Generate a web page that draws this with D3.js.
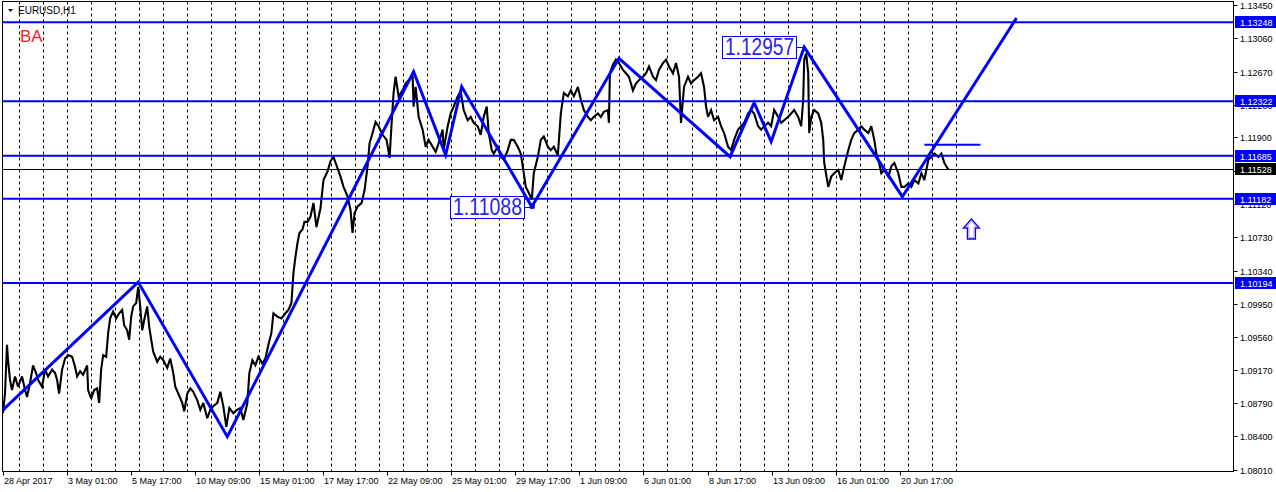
<!DOCTYPE html>
<html><head><meta charset="utf-8">
<script src="https://cdn.jsdelivr.net/npm/d3@7/dist/d3.min.js"></script>
<style>body{margin:0;background:#fff;overflow:hidden}svg{display:block}</style>
</head><body>
<script>
// ---------- DATA ----------
const symbolTitle = "EURUSD,H1";
const priceTicks = [1.13450,1.13060,1.12670,1.12280,1.11900,1.11510,1.11120,1.10730,1.10340,1.09950,1.09560,1.09170,1.08790,1.08400,1.08010];
const timeTickBars = [0,63.5,127.5,191.5,255.5,319.5,383.5,447.5,511.5,575.5,639.5,703.5,767.5,831.5,895.5];
const timeTickLabels = ["28 Apr 2017","3 May 01:00","5 May 17:00","10 May 09:00","15 May 01:00","17 May 17:00","22 May 09:00","25 May 01:00","29 May 17:00","1 Jun 09:00","6 Jun 01:00","8 Jun 17:00","13 Jun 09:00","16 Jun 01:00","20 Jun 17:00"];

// hourly bar index (from first bar) and price
const priceBars = [0,2,4,5,7,9,12,15,19,22,24,27,30,33,35,39,42,45,49,52,54,56,59,62,65,69,72,74,77,80,84,85,88,91,94,96,98,100,103,105,107,110,113,116,119,121,124,126,128,130,133,135,137,139,141,144,146,148,150,154,157,160,164,167,170,172,175,179,181,184,187,190,194,197,200,204,207,210,214,217,220,223,226,230,234,237,240,244,246,249,252,255,259,262,265,268,270,274,278,282,285,288,290,292,294,296,299,301,304,307,310,313,317,320,324,327,330,334,337,340,344,347,349,351,354,358,361,364,366,369,372,375,379,383,386,388,390,392,395,399,402,405,409,410,412,415,419,422,425,429,432,435,439,440,444,447,450,454,457,460,464,467,470,474,477,480,483,485,488,490,494,497,500,504,507,510,514,517,520,522,525,528,530,534,537,540,544,547,550,554,557,560,564,567,570,574,577,580,584,587,590,594,597,600,604,605,606,609,612,615,619,622,625,629,632,635,639,642,645,649,652,655,659,662,665,669,672,675,677,680,684,687,690,694,697,700,702,704,707,710,714,717,720,724,727,730,734,737,740,744,747,750,754,757,760,764,767,770,774,777,780,784,787,790,794,797,799,800,802,804,805,807,810,814,817,819,820,824,827,830,834,837,840,844,847,850,854,857,860,864,867,870,872,874,877,880,884,887,890,894,897,900,904,907,910,914,917,920,924,927,930,934,937,940,944];
const priceValues = [1.0867,1.0890,1.0947,1.0929,1.0906,1.0894,1.0910,1.0898,1.0910,1.0894,1.0886,1.0902,1.0923,1.0914,1.0906,1.0898,1.0918,1.0910,1.0918,1.0914,1.0906,1.0890,1.0918,1.0931,1.0935,1.0933,1.0921,1.0910,1.0916,1.0912,1.0923,1.0894,1.0884,1.0894,1.0896,1.0879,1.0918,1.0935,1.0933,1.0961,1.0978,1.0986,1.0978,1.0984,1.0988,1.0970,1.0964,1.0953,1.0980,1.0992,1.0996,1.1015,1.0992,1.0964,1.0976,1.0992,1.0968,1.0953,1.0939,1.0927,1.0933,1.0929,1.0920,1.0931,1.0914,1.0898,1.0890,1.0879,1.0869,1.0890,1.0896,1.0892,1.0882,1.0871,1.0879,1.0861,1.0871,1.0875,1.0879,1.0892,1.0875,1.0851,1.0873,1.0867,1.0871,1.0873,1.0859,1.0879,1.0914,1.0929,1.0923,1.0933,1.0925,1.0931,1.0947,1.0961,1.0984,1.0980,1.0978,1.0984,1.0988,1.0996,1.1031,1.1050,1.1066,1.1078,1.1082,1.1091,1.1091,1.1097,1.1113,1.1085,1.1107,1.1140,1.1150,1.1162,1.1167,1.1154,1.1144,1.1132,1.1121,1.1105,1.1078,1.1101,1.1109,1.1113,1.1128,1.1156,1.1183,1.1195,1.1208,1.1203,1.1193,1.1187,1.1166,1.1206,1.1242,1.1261,1.1238,1.1245,1.1253,1.1257,1.1261,1.1226,1.1249,1.1214,1.1199,1.1179,1.1187,1.1179,1.1173,1.1183,1.1199,1.1175,1.1203,1.1218,1.1226,1.1238,1.1244,1.1222,1.1210,1.1214,1.1207,1.1203,1.1193,1.1214,1.1226,1.1195,1.1175,1.1171,1.1179,1.1167,1.1164,1.1175,1.1187,1.1187,1.1179,1.1171,1.1148,1.1132,1.1125,1.1117,1.1148,1.1167,1.1187,1.1191,1.1179,1.1175,1.1179,1.1169,1.1218,1.1242,1.1238,1.1245,1.1238,1.1249,1.1234,1.1222,1.1214,1.1210,1.1214,1.1218,1.1214,1.1220,1.1222,1.1207,1.1265,1.1275,1.1281,1.1277,1.1269,1.1265,1.1261,1.1245,1.1253,1.1257,1.1261,1.1265,1.1273,1.1261,1.1257,1.1269,1.1277,1.1281,1.1273,1.1265,1.1277,1.1261,1.1207,1.1249,1.1261,1.1253,1.1257,1.1261,1.1265,1.1249,1.1226,1.1214,1.1222,1.1210,1.1214,1.1203,1.1195,1.1179,1.1175,1.1187,1.1199,1.1203,1.1207,1.1218,1.1222,1.1218,1.1203,1.1199,1.1203,1.1207,1.1203,1.1222,1.1214,1.1207,1.1210,1.1214,1.1218,1.1222,1.1214,1.1203,1.1234,1.1281,1.1288,1.1265,1.1195,1.1214,1.1222,1.1218,1.1207,1.1187,1.1160,1.1132,1.1144,1.1148,1.1152,1.1140,1.1156,1.1175,1.1187,1.1195,1.1199,1.1203,1.1199,1.1195,1.1203,1.1187,1.1171,1.1164,1.1148,1.1152,1.1144,1.1156,1.1160,1.1148,1.1132,1.1132,1.1136,1.1132,1.1140,1.1136,1.1148,1.1140,1.1164,1.1167,1.1171,1.1167,1.1171,1.1160,1.1152];

// zigzag (analysis line)
const zigBars   = [0,135,224,410,442,458,528,615,726,750,767,800,898,1012];
const zigPrices = [1.08707,1.10205,1.08394,1.12669,1.11693,1.12493,1.11088,1.12826,1.11673,1.12306,1.11849,1.12957,1.11205,1.13298];

// horizontal levels
const levelPrices = [1.13248,1.12322,1.11685,1.11182,1.10194];
const lastPrice = 1.11528;
const shortLineBars = [920,976];
const shortLinePrice = 1.11814;

// price labels on the chart
const labelTexts  = ["1.12957","1.11088"];
const labelBars   = [800,528];
const labelPrices = [1.12957,1.11088];

const arrowBar = 967, arrowPrice = 1.10944;
const cornerText = "BA";

// ---------- DRAW ----------
const W=1276,H=492, L=2.5, R=1233.5, T=1.5, B=471.5;
const blue="#0000ff";
const svg=d3.select("body").append("svg").attr("width",W).attr("height",H)
  .style("font-family","'Liberation Sans',Arial,sans-serif");

const x=d3.scaleLinear().domain([0,1230]).range([3,3+1230*1.0015]);
const y=d3.scaleLinear().domain([1.08010,1.13450]).range([469.5,5]);

const plot=svg.append("g");
plot.append("clipPath").attr("id","clip").append("rect").attr("x",L).attr("y",T).attr("width",R-L).attr("height",B-T);
const g=plot.append("g").attr("clip-path","url(#clip)");

// grid (day separators)
const gridBars=d3.range(15.5,960,24);
g.selectAll(".grid").data(gridBars).join("line")
  .attr("x1",d=>Math.round(x(d))+0.5).attr("x2",d=>Math.round(x(d))+0.5)
  .attr("y1",T).attr("y2",B).attr("stroke","#000").attr("stroke-width",1)
  .attr("stroke-dasharray","3,3");

// price series
const pts=priceBars.map((b,i)=>[b,priceValues[i]]);
g.append("path").datum(pts)
  .attr("d",d3.line().x(d=>x(d[0])).y(d=>y(d[1])))
  .attr("fill","none").attr("stroke","#000").attr("stroke-width",2.1).attr("stroke-linejoin","miter").attr("stroke-miterlimit",3);

// level lines
g.selectAll(".lvl").data(levelPrices).join("line")
  .attr("x1",L).attr("x2",R).attr("y1",d=>y(d)).attr("y2",d=>y(d))
  .attr("stroke",blue).attr("stroke-width",2);
// last price line
g.append("line").attr("x1",L).attr("x2",R)
  .attr("y1",Math.round(y(lastPrice))+0.5).attr("y2",Math.round(y(lastPrice))+0.5)
  .attr("stroke","#000").attr("stroke-width",1);

// zigzag
const zig=zigBars.map((b,i)=>[b,zigPrices[i]]);
g.append("path").datum(zig)
  .attr("d",d3.line().x(d=>x(d[0])).y(d=>y(d[1])))
  .attr("fill","none").attr("stroke",blue).attr("stroke-width",3).attr("stroke-linejoin","miter");

// short horizontal
g.append("line").attr("x1",x(shortLineBars[0])).attr("x2",x(shortLineBars[1]))
  .attr("y1",y(shortLinePrice)).attr("y2",y(shortLinePrice)).attr("stroke",blue).attr("stroke-width",2);

// price labels with boxes
labelTexts.forEach((t,i)=>{
  const px=x(labelBars[i]), py=y(labelPrices[i]);
  const right=Math.round(px-8);
  const lg=g.append("g");
  const tw=69;
  lg.append("rect").attr("x",right-tw-5+0.5).attr("y",Math.round(py-11)+0.5)
    .attr("width",tw+5).attr("height",22)
    .attr("fill","#fff").attr("stroke",blue).attr("stroke-width",1);
  lg.append("text").attr("x",right-tw-2).attr("y",py+8)
    .attr("textLength",tw).attr("lengthAdjust","spacingAndGlyphs")
    .attr("font-size",23).attr("fill","#2a22ee").text(t);
  lg.append("line").attr("x1",right).attr("x2",px).attr("y1",Math.round(py)+0.5).attr("y2",Math.round(py)+0.5).attr("stroke",blue).attr("stroke-width",1);
});
// small marker at the low
g.append("rect").attr("x",x(labelBars[1])-2).attr("y",y(labelPrices[1])-3).attr("width",5).attr("height",5).attr("fill",blue);

// arrow
const ax=x(arrowBar), ay=y(arrowPrice);
g.append("path").attr("transform",`translate(${ax},${ay})`)
  .attr("d","M0,0 L8,9 L4,9 L4,20 L-4,20 L-4,9 L-8,9 Z")
  .attr("fill","#fff").attr("stroke",blue).attr("stroke-width",1.3);
g.append("path").attr("transform",`translate(${ax},${ay})`)
  .attr("d","M0,2.5 L5.5,8 L2.6,8 L2.6,18.6 L-2.6,18.6 L-2.6,8 L-5.5,8 Z")
  .attr("fill","none").attr("stroke","#b070ff").attr("stroke-width",0.8);

// corner texts
svg.append("path").attr("d","M8,9 L13,9 L10.5,12 Z").attr("fill","#000");
svg.append("text").attr("x",18).attr("y",14).attr("font-size",10).attr("fill","#000").text(symbolTitle);
svg.append("text").attr("x",20).attr("y",41.5).attr("font-size",17).attr("fill","#ff1a1a").text(cornerText);

// frame
svg.append("rect").attr("x",L).attr("y",T).attr("width",R-L).attr("height",B-T)
  .attr("fill","none").attr("stroke","#000").attr("stroke-width",1);

// right axis ticks
const ra=svg.append("g");
priceTicks.forEach(p=>{
  const py=Math.round(y(p))+0.5;
  ra.append("line").attr("x1",R).attr("x2",R+4).attr("y1",py).attr("y2",py).attr("stroke","#000");
  ra.append("text").attr("x",1240).attr("y",py+3.2).attr("font-size",9).attr("fill","#000").text(p.toFixed(5));
});
// bottom axis
timeTickBars.forEach((b,i)=>{
  const px=Math.round(x(b))+0.5;
  svg.append("line").attr("x1",px).attr("x2",px).attr("y1",B).attr("y2",B+4).attr("stroke","#000");
  svg.append("text").attr("x",px+0.5).attr("y",484).attr("font-size",9).attr("fill","#000").text(timeTickLabels[i]);
});

// right price tags
function tag(p,bg){
  const py=y(p);
  svg.append("rect").attr("x",1235).attr("y",Math.round(py-6)).attr("width",41).attr("height",12).attr("fill",bg);
  svg.append("text").attr("x",1240).attr("y",Math.round(py-6)+9.5).attr("font-size",9).attr("fill","#fff").text(p.toFixed(5));
}
levelPrices.forEach(p=>tag(p,blue));
tag(lastPrice,"#000");
</script>
</body></html>
